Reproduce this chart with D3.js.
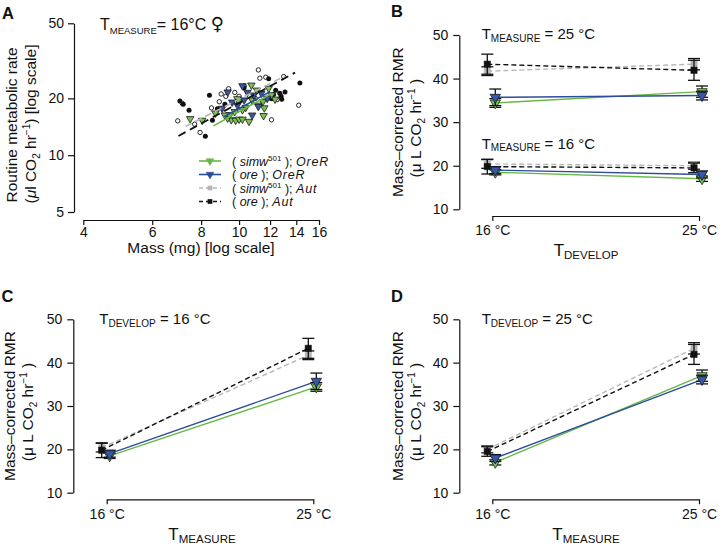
<!DOCTYPE html>
<html><head><meta charset="utf-8">
<script src="https://cdn.jsdelivr.net/npm/d3@7"></script>
<style>
body{margin:0;background:#fff}
svg text{font-family:"Liberation Sans",Arial,Helvetica,sans-serif;fill:#111}
</style></head><body>
<svg id="c" width="720" height="545"></svg>
<script>
// ---------------- data ----------------
const massTicks = [4, 6, 8, 10, 12, 14, 16];
const rateTicks = [5, 10, 20, 50];
const rmrTicks = [10, 20, 30, 40, 50];
const tempLabels = ["16 °C", "25 °C"];
const genotypes = ["simwOreR", "oreOreR", "simwAut", "oreAut"];

// Panel A: individual flies (mass mg, routine metabolic rate)
const massSimwOreR = [8.05, 9.55, 9.8, 10.0, 10.2, 9.35, 9.45, 9.2, 9.9, 10.0, 10.75, 11.1, 11.5, 11.6, 11.55, 11.2, 10.8, 12.35, 10.4, 10.2, 9.75, 11.9, 8.7, 7.5, 10.6, 12.1];
const rateSimwOreR = [15.3, 15.4, 15.3, 15.5, 15.5, 15.7, 16.4, 16.3, 19.9, 19.2, 23.5, 22.1, 19.2, 17.8, 16.2, 18.4, 19.6, 19.8, 17.9, 17.4, 17.0, 22.6, 16.7, 15.6, 15.1, 20.9];
const massOreOreR = [10.2, 10.5, 9.6, 10.8, 11.2, 11.4, 9.35, 9.9, 10.9, 9.05, 11.8, 10.3];
const rateOreOreR = [23.3, 21.5, 19.1, 16.3, 18.1, 21.3, 21.6, 18.4, 20.8, 17.7, 20.0, 19.6];
const massSimwAut = [6.97, 7.16, 7.95, 9.0, 8.9, 9.4, 9.75, 11.2, 13.0, 14.2, 12.1, 12.5, 10.3, 11.3, 11.7, 9.25, 8.5, 10.0, 11.0, 7.7];
const rateSimwAut = [15.2, 18.8, 13.2, 21.1, 19.2, 22.5, 21.5, 28.3, 26.1, 18.4, 15.4, 19.7, 23.3, 25.6, 25.9, 20.5, 17.8, 20.5, 20.0, 14.6];
const massOreAut = [7.06, 7.2, 7.45, 8.4, 8.55, 8.2, 8.8, 9.2, 11.9, 14.3, 12.1, 12.4, 12.7, 12.8, 12.85, 12.25, 13.1, 10.3];
const rateOreAut = [19.4, 18.6, 17.3, 20.8, 15.3, 12.6, 17.6, 18.6, 25.4, 24.1, 19.9, 22.1, 21.3, 20.5, 19.8, 21.0, 21.6, 22.8];

// Panel A: fitted allometric lines [start, end]
const fitMassSimwOreR = [8.6, 12.0], fitRateSimwOreR = [14.3, 21.0];
const fitMassOreOreR = [9.15, 12.0], fitRateOreOreR = [16.0, 21.7];
const fitMassSimwAut = [7.3, 13.1], fitRateSimwAut = [14.2, 26.3];
const fitMassOreAut = [7.0, 13.9], fitRateOreAut = [12.65, 27.4];

// Panels B–D: mass-corrected RMR means and SE
// order: [Tdev16/Tmeas16, Tdev25/Tmeas16, Tdev16/Tmeas25, Tdev25/Tmeas25]
const rmrSimwOreR = [18.5, 17.0, 34.4, 37.0];
const rmrOreOreR = [19.0, 18.0, 35.7, 36.1];
const rmrSimwAut = [20.4, 20.0, 41.7, 43.3];
const rmrOreAut = [19.8, 19.5, 43.3, 41.9];
const seSimwOreR = [0.6, 0.6, 1.0, 1.3];
const seOreOreR = [0.8, 0.8, 1.9, 1.0];
const seSimwAut = [1.0, 0.8, 1.0, 1.3];
const seOreAut = [1.7, 1.1, 2.3, 2.3];

// ---------------- styles ----------------
const FONT = '"Liberation Sans",Arial,Helvetica,sans-serif';
const sty = {
  simwOreR: {line: "#66b846", fill: "#78c24e", stroke: "#2a3a20", dash: null, shape: "tri", off: 3},
  oreOreR:  {line: "#2e4c9c", fill: "#3857a6", stroke: "#1a2240", dash: null, shape: "tri", off: 3},
  simwAut:  {line: "#b8b8b8", fill: "#b4b4b4", stroke: "#b4b4b4", dash: "5,3", shape: "sq", off: -5},
  oreAut:   {line: "#111111", fill: "#111111", stroke: "#111111", dash: "5,3", shape: "sq", off: -5}
};
const drawOrder = ["simwAut", "oreAut", "simwOreR", "oreOreR"];

const svg = d3.select("#c");

function rich(parent, x, y, segs, attrs) {
  const t = parent.append("text").attr("x", x).attr("y", y);
  if (attrs) Object.entries(attrs).forEach(([k, v]) => t.attr(k, v));
  let shift = 0;
  segs.forEach(s => {
    const sp = t.append("tspan").text(s.t);
    if (s.fs) sp.attr("font-size", s.fs);
    if (s.it) sp.attr("font-style", "italic");
    if (s.ls) sp.attr("letter-spacing", s.ls);
    if (s.ff) sp.attr("font-family", s.ff);
    const want = s.dy || 0;
    if (want !== shift) { sp.attr("dy", want - shift); shift = want; }
  });
  return t;
}

function styleAxis(g, fs) {
  g.attr("font-family", FONT).attr("font-size", fs);
  g.selectAll("line").attr("stroke", "#111").attr("stroke-width", 1.2);
  g.selectAll("path.domain").attr("stroke", "#111").attr("stroke-width", 1.2);
  g.selectAll("text").attr("fill", "#111");
}

function marker(g, shape, x, y, size, fill, stroke, sw) {
  const sym = shape === "tri" ? d3.symbolTriangle : shape === "sq" ? d3.symbolSquare : d3.symbolCircle;
  g.append("path").attr("d", d3.symbol().type(sym).size(size)())
    .attr("transform", `translate(${x},${y})` + (shape === "tri" ? " rotate(180)" : ""))
    .attr("fill", fill).attr("stroke", stroke).attr("stroke-width", sw);
}

// ---------------- Panel A ----------------
(function () {
  const g = svg.append("g");
  const x = d3.scaleLog().domain([4, 16]).range([83.3, 319]);
  const y = d3.scaleLog().domain([5, 50]).range([212, 23.3]);
  const ax = g.append("g").attr("transform", "translate(0,220)")
    .call(d3.axisBottom(x).tickValues(massTicks).tickFormat(d3.format("d")).tickSize(5).tickPadding(2).tickSizeOuter(0));
  styleAxis(ax, 14);
  const ay = g.append("g").attr("transform", "translate(74,0)")
    .call(d3.axisLeft(y).tickValues(rateTicks).tickFormat(d3.format("d")).tickSize(6).tickPadding(4).tickSizeOuter(0));
  styleAxis(ay, 14);

  const pts = [
    ["simwAut", massSimwAut, rateSimwAut, "open"],
    ["oreAut", massOreAut, rateOreAut, "filled"],
    ["simwOreR", massSimwOreR, rateSimwOreR, "tri"],
    ["oreOreR", massOreOreR, rateOreOreR, "tri"]
  ];
  pts.forEach(([k, ms, rs, kind]) => {
    ms.forEach((m, i) => {
      if (kind === "open") g.append("circle").attr("cx", x(m)).attr("cy", y(rs[i])).attr("r", 2.2).attr("fill", "#fff").attr("stroke", "#111").attr("stroke-width", 0.9);
      else if (kind === "filled") g.append("circle").attr("cx", x(m)).attr("cy", y(rs[i])).attr("r", 2.5).attr("fill", "#111");
      else marker(g, "tri", x(m), y(rs[i]), 24, sty[k].fill, "#1b1b1b", 0.8);
    });
  });
  const fits = [
    ["simwAut", fitMassSimwAut, fitRateSimwAut, "7,4", 1.6],
    ["oreAut", fitMassOreAut, fitRateOreAut, "8,5", 1.8],
    ["simwOreR", fitMassSimwOreR, fitRateSimwOreR, null, 1.6],
    ["oreOreR", fitMassOreOreR, fitRateOreOreR, null, 1.6]
  ];
  fits.forEach(([k, ms, rs, dash, w]) => {
    const l = g.append("line").attr("x1", x(ms[0])).attr("y1", y(rs[0])).attr("x2", x(ms[1])).attr("y2", y(rs[1]))
      .attr("stroke", sty[k].line).attr("stroke-width", w);
    if (dash) l.attr("stroke-dasharray", dash);
  });

  // legend
  const legY = [161, 174.5, 188, 201.5];
  const legText = [
    [{t: "( "}, {t: "simw", it: 1}, {t: "501", fs: 8, dy: -5}, {t: " ); ", dy: 0}, {t: "OreR", it: 1, ls: 0.8}],
    [{t: "( "}, {t: "ore", it: 1}, {t: " ); "}, {t: "OreR", it: 1, ls: 0.8}],
    [{t: "( "}, {t: "simw", it: 1}, {t: "501", fs: 8, dy: -5}, {t: " ); ", dy: 0}, {t: "Aut", it: 1, ls: 0.8}],
    [{t: "( "}, {t: "ore", it: 1}, {t: " ); "}, {t: "Aut", it: 1, ls: 0.8}]
  ];
  genotypes.forEach((k, i) => {
    const l = g.append("line").attr("x1", 199).attr("x2", 221).attr("y1", legY[i]).attr("y2", legY[i])
      .attr("stroke", sty[k].line).attr("stroke-width", 1.6);
    if (sty[k].dash) l.attr("stroke-dasharray", "4,3").attr("stroke-dashoffset", 0);
    if (sty[k].shape === "tri") marker(g, "tri", 210, legY[i], 26, sty[k].line, sty[k].line, 0.5);
    else marker(g, "sq", 210, legY[i], 22, sty[k].fill, sty[k].fill, 0);
    rich(g, 232, legY[i] + 4.5, legText[i], {"font-size": 12.5});
  });

  rich(g, 100, 29.5, [{t: "T", fs: 16}, {t: "MEASURE", fs: 9.5, dy: 4}, {t: "= 16°C ", fs: 16, dy: 0}, {t: "♀", fs: 18, ff: "DejaVu Sans"}]);
  g.append("text").attr("x", 201).attr("y", 253).attr("text-anchor", "middle").attr("font-size", 15.5).text("Mass (mg) [log scale]");
  rich(g, 0, 0, [{t: "Routine metabolic rate"}], {"font-size": 15.5, "text-anchor": "middle", transform: "translate(17,125) rotate(-90)"});
  rich(g, 0, 0, [{t: "(", fs: 15.5}, {t: "μ", it: 1}, {t: "l CO"}, {t: "2", fs: 10, dy: 4}, {t: " hr", dy: 0}, {t: "−1", fs: 10, dy: -6}, {t: ") [log scale]", dy: 0}],
    {"font-size": 15.5, "text-anchor": "middle", transform: "translate(36,124) rotate(-90)"});
  g.append("text").attr("x", 2).attr("y", 18.5).attr("font-size", 16.5).attr("font-weight", "bold").text("A");
})();

// ---------------- Panels B–D ----------------
const rmr = {simwOreR: rmrSimwOreR, oreOreR: rmrOreOreR, simwAut: rmrSimwAut, oreAut: rmrOreAut};
const se = {simwOreR: seSimwOreR, oreOreR: seOreOreR, simwAut: seSimwAut, oreAut: seOreAut};

function panel(cfg) {
  const g = svg.append("g");
  const y = d3.scaleLinear().domain([10, 50]).range([cfg.yBot, cfg.yTop]);
  const x = d3.scalePoint().domain(tempLabels).range([cfg.x0, cfg.x1]);
  const ay = g.append("g").attr("transform", `translate(${cfg.axX},0)`)
    .call(d3.axisLeft(y).tickValues(rmrTicks).tickSize(6).tickPadding(5).tickSizeOuter(0));
  styleAxis(ay, 14);
  const ax = g.append("g").attr("transform", `translate(0,${cfg.axY})`)
    .call(d3.axisBottom(x).tickSize(5).tickPadding(4.5).tickSizeOuter(0));
  styleAxis(ax, 14);

  cfg.groups.forEach(idx => {
    drawOrder.forEach(k => {
      const s = sty[k];
      const xs = tempLabels.map(t => x(t) + s.off);
      const ys = idx.map(i => y(rmr[k][i]));
      const l = g.append("line").attr("x1", xs[0]).attr("y1", ys[0]).attr("x2", xs[1]).attr("y2", ys[1])
        .attr("stroke", s.line).attr("stroke-width", 1.4);
      if (s.dash) l.attr("stroke-dasharray", s.dash);
    });
    drawOrder.forEach(k => {
      const s = sty[k];
      idx.forEach((i, j) => {
        const cx = x(tempLabels[j]) + s.off;
        const lo = y(rmr[k][i] - se[k][i]), hi = y(rmr[k][i] + se[k][i]);
        g.append("line").attr("x1", cx).attr("x2", cx).attr("y1", lo).attr("y2", hi).attr("stroke", "#111").attr("stroke-width", 1.3);
        [lo, hi].forEach(yy => g.append("line").attr("x1", cx - 6).attr("x2", cx + 6).attr("y1", yy).attr("y2", yy).attr("stroke", "#111").attr("stroke-width", 1.3));
        if (s.shape === "tri") marker(g, "tri", cx, y(rmr[k][i]), 46, s.fill, s.stroke, 0.9);
        else marker(g, "sq", cx, y(rmr[k][i]), 40, s.fill, s.stroke, 0.5);
      });
    });
  });
  cfg.notes.forEach(n => rich(g, n.x, n.y, [{t: "T", fs: 15}, {t: n.sub, fs: 10, dy: 2.5}, {t: n.rest, fs: 15, dy: 0}]));
  rich(g, cfg.xtX, cfg.xtY, [{t: "T", fs: 17}, {t: cfg.xsub, fs: 11.5, dy: 3}]).attr("text-anchor", "middle");
  rich(g, 0, 0, [{t: "Mass–corrected RMR"}], {"font-size": 15.5, "text-anchor": "middle", transform: `translate(${cfg.ytX},${(cfg.yTop + cfg.yBot) / 2}) rotate(-90)`});
  rich(g, 0, 0, [{t: "(μ L CO"}, {t: "2", fs: 10, dy: 4}, {t: " hr", dy: 0}, {t: "−1", fs: 10, dy: -6}, {t: " )", dy: 0}],
    {"font-size": 15.5, "text-anchor": "middle", transform: `translate(${cfg.ytX + 18},${(cfg.yTop + cfg.yBot) / 2 + 6}) rotate(-90)`});
  g.append("text").attr("x", cfg.lx).attr("y", cfg.ly).attr("font-size", 16.5).attr("font-weight", "bold").text(cfg.letter);
}

panel({letter: "B", lx: 391, ly: 17, axX: 459.3, x0: 492.3, x1: 699, yTop: 35, yBot: 209.3, axY: 216,
  groups: [[0, 1], [2, 3]],
  notes: [{x: 481.7, y: 39, sub: "MEASURE", rest: " = 25 °C"}, {x: 481.7, y: 148.5, sub: "MEASURE", rest: " = 16 °C"}],
  xtX: 586, xtY: 256, xsub: "DEVELOP", ytX: 402.5});
panel({letter: "C", lx: 1.5, ly: 301.5, axX: 73.3, x0: 106.7, x1: 313.3, yTop: 319.3, yBot: 492.7, axY: 499.3,
  groups: [[0, 2]],
  notes: [{x: 99.3, y: 324, sub: "DEVELOP", rest: " = 16 °C"}],
  xtX: 202, xtY: 539.5, xsub: "MEASURE", ytX: 15});
panel({letter: "D", lx: 391, ly: 301.5, axX: 459.3, x0: 492.3, x1: 699, yTop: 319.3, yBot: 492.7, axY: 499.3,
  groups: [[1, 3]],
  notes: [{x: 481.7, y: 324, sub: "DEVELOP", rest: " = 25 °C"}],
  xtX: 586, xtY: 539.5, xsub: "MEASURE", ytX: 402.5});
</script>
</body></html>
